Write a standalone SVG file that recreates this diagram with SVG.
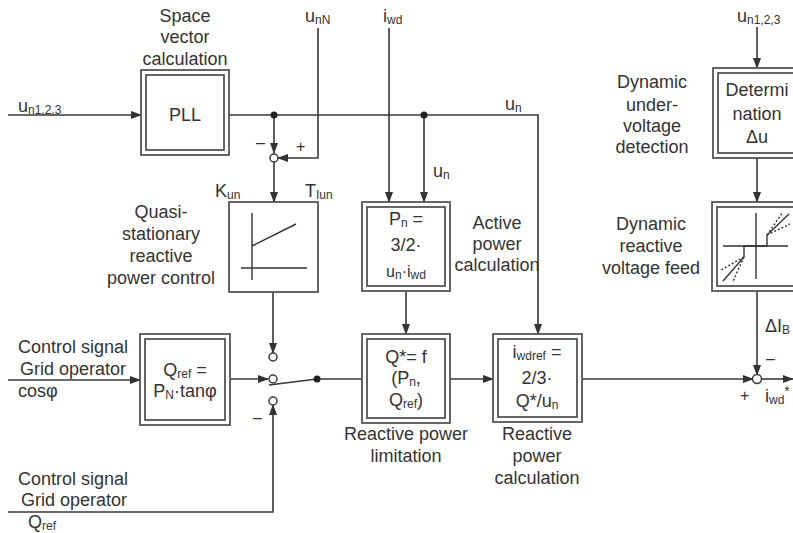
<svg xmlns="http://www.w3.org/2000/svg" width="793" height="533" viewBox="0 0 793 533">
<defs>
<marker id="ah" markerUnits="userSpaceOnUse" markerWidth="11" markerHeight="8" refX="10" refY="4" orient="auto">
<path d="M0,0 L11,4 L0,8 z" fill="#333"/>
</marker>
<style>
text{font-family:"Liberation Sans",Arial,sans-serif;font-size:18px;fill:#333}
.m{text-anchor:middle}
.s{font-size:12px}
.b{fill:none;stroke:#555;stroke-width:1.8}
.c{fill:none;stroke:#383838;stroke-width:1.6}
.a{marker-end:url(#ah)}
.k{fill:#fff;stroke:#383838;stroke-width:1.5}
.d{fill:#222}
.g{fill:none;stroke:#333;stroke-width:1.4}
.dash{stroke-dasharray:2,2}
</style>
</defs>
<rect width="793" height="533" fill="#fff"/>

<g id="connectors">
<path class="c a" d="M8,115 H141"/>
<path class="c a" d="M229,115 H538 V334"/>
<path class="c a" d="M274,115 V153"/>
<path class="c a" d="M424,115 V202"/>
<path class="c a" d="M318,28 V158 H278"/>
<path class="c a" d="M389,28 V202"/>
<path class="c a" d="M274,162 V202"/>
<path class="c a" d="M273,292 V353"/>
<path class="c a" d="M8,380 H140"/>
<path class="c a" d="M230,379 H268"/>
<path class="c" d="M269,385 L317,379 H362"/>
<path class="c a" d="M8,512 H273 V405"/>
<path class="c a" d="M406,291 V334"/>
<path class="c a" d="M450,379 H493"/>
<path class="c a" d="M582,379 H753"/>
<path class="c a" d="M761,379 H793"/>
<path class="c a" d="M757,27 V68"/>
<path class="c a" d="M757,158 V202"/>
<path class="c a" d="M757,291 V375"/>
<circle class="d" cx="274" cy="115" r="3.5"/>
<circle class="d" cx="424" cy="115" r="3.5"/>
<circle class="d" cx="317" cy="379" r="3.5"/>
<circle class="k" cx="274" cy="158" r="4"/>
<circle class="k" cx="273" cy="357" r="4"/>
<circle class="k" cx="273" cy="379" r="4"/>
<circle class="k" cx="273" cy="401" r="4"/>
<circle class="k" cx="757" cy="379" r="4.5"/>
</g>

<g id="labels">
<text x="18" y="112">u<tspan class="s" dy="2">n1,2,3</tspan></text>
<text x="305" y="22">u<tspan class="s" dy="2">nN</tspan></text>
<text x="383" y="22">i<tspan class="s" dy="2">wd</tspan></text>
<text x="505" y="110">u<tspan class="s" dy="2">n</tspan></text>
<text x="433" y="177">u<tspan class="s" dy="2">n</tspan></text>
<text x="215" y="197">K<tspan class="s" dy="2">un</tspan></text>
<text x="305" y="197">T<tspan class="s" dy="2">Iun</tspan></text>
<text x="256" y="148" style="font-size:16px">–</text>
<text x="296" y="152" style="font-size:16px">+</text>
<text x="253" y="423" style="font-size:16px">–</text>
<text x="766" y="364" style="font-size:16px">–</text>
<text x="740" y="401" style="font-size:16px">+</text>
<text x="765" y="402">i<tspan class="s" dy="2">wd</tspan><tspan dy="-8" style="font-size:14px">*</tspan></text>
<text x="765" y="332">ΔI<tspan class="s" dy="2">B</tspan></text>
<text x="737" y="22">u<tspan class="s" dy="2">n1,2,3</tspan></text>
<text x="18" y="353">Control signal</text>
<text x="20" y="375">Grid operator</text>
<text x="18" y="397">cosφ</text>
<text x="18" y="485">Control signal</text>
<text x="21" y="506">Grid operator</text>
<text x="28" y="528">Q<tspan class="s" dy="2">ref</tspan></text>
</g>

<g id="pll">
<rect class="b" x="141" y="70" width="88" height="85"/>
<rect class="b" x="146" y="75" width="78" height="75"/>
<text class="m" x="185" y="121">PLL</text>
<text class="m" x="185" y="22">Space</text>
<text class="m" x="185" y="43">vector</text>
<text class="m" x="185" y="65">calculation</text>
</g>

<g id="quasi">
<rect class="b" x="229" y="202" width="89" height="90"/>
<path class="g" d="M252,213 V280 M241,268 H307 M252,246 L296,224"/>
<text class="m" x="161" y="218">Quasi-</text>
<text class="m" x="161" y="240">stationary</text>
<text class="m" x="161" y="262">reactive</text>
<text class="m" x="161" y="284">power control</text>
</g>

<g id="active">
<rect class="b" x="362" y="202" width="88" height="89"/>
<rect class="b" x="367" y="207" width="78" height="79"/>
<text class="m" x="406" y="225">P<tspan class="s" dy="2">n</tspan><tspan dy="-2"> =</tspan></text>
<text class="m" x="406" y="251">3/2·</text>
<text class="m" x="406" y="277" style="font-size:16px">u<tspan class="s" dy="2">n</tspan><tspan dy="-2">·i</tspan><tspan class="s" dy="2">wd</tspan></text>
<text class="m" x="497" y="229">Active</text>
<text class="m" x="497" y="250">power</text>
<text class="m" x="497" y="271">calculation</text>
</g>

<g id="qref">
<rect class="b" x="140" y="334" width="90" height="91"/>
<rect class="b" x="145" y="339" width="80" height="81"/>
<text class="m" x="185" y="376">Q<tspan class="s" dy="2">ref</tspan><tspan dy="-2"> =</tspan></text>
<text class="m" x="185" y="397">P<tspan class="s" dy="2">N</tspan><tspan dy="-2">·tanφ</tspan></text>
</g>

<g id="limitation">
<rect class="b" x="362" y="334" width="88" height="89"/>
<rect class="b" x="367" y="339" width="78" height="79"/>
<text class="m" x="406" y="363">Q*= f</text>
<text class="m" x="406" y="384">(P<tspan class="s" dy="2">n</tspan><tspan dy="-2">,</tspan></text>
<text class="m" x="406" y="406">Q<tspan class="s" dy="2">ref</tspan><tspan dy="-2">)</tspan></text>
<text class="m" x="406" y="440">Reactive power</text>
<text class="m" x="406" y="462">limitation</text>
</g>

<g id="iwdref">
<rect class="b" x="493" y="334" width="89" height="88"/>
<rect class="b" x="498" y="339" width="79" height="78"/>
<text class="m" x="537" y="358">i<tspan class="s" dy="2">wdref</tspan><tspan dy="-2"> =</tspan></text>
<text class="m" x="537" y="384">2/3·</text>
<text class="m" x="537" y="407">Q*/u<tspan class="s" dy="2">n</tspan></text>
<text class="m" x="537" y="440">Reactive</text>
<text class="m" x="537" y="462">power</text>
<text class="m" x="537" y="484">calculation</text>
</g>

<g id="determination">
<rect class="b" x="713" y="68" width="88" height="90"/>
<rect class="b" x="718" y="73" width="78" height="80"/>
<text class="m" x="757" y="96">Determi</text>
<text class="m" x="757" y="120">nation</text>
<text class="m" x="757" y="143">Δu</text>
<text class="m" x="652" y="88">Dynamic</text>
<text class="m" x="652" y="111">under-</text>
<text class="m" x="652" y="132">voltage</text>
<text class="m" x="652" y="153">detection</text>
</g>

<g id="feed">
<rect class="b" x="712" y="202" width="88" height="89"/>
<rect class="b" x="717" y="207" width="78" height="79"/>
<path class="g" d="M756,213 V279 M723,246 H788"/>
<path class="g" d="M723,281 L744,257 V246 H767 V235 L789,214"/>
<path class="g dash" d="M744,257 L721,270 M744,257 L733,281 M767,235 L783,212 M767,235 L790,224"/>
<text class="m" x="651" y="230">Dynamic</text>
<text class="m" x="651" y="252">reactive</text>
<text class="m" x="651" y="274">voltage feed</text>
</g>
</svg>
